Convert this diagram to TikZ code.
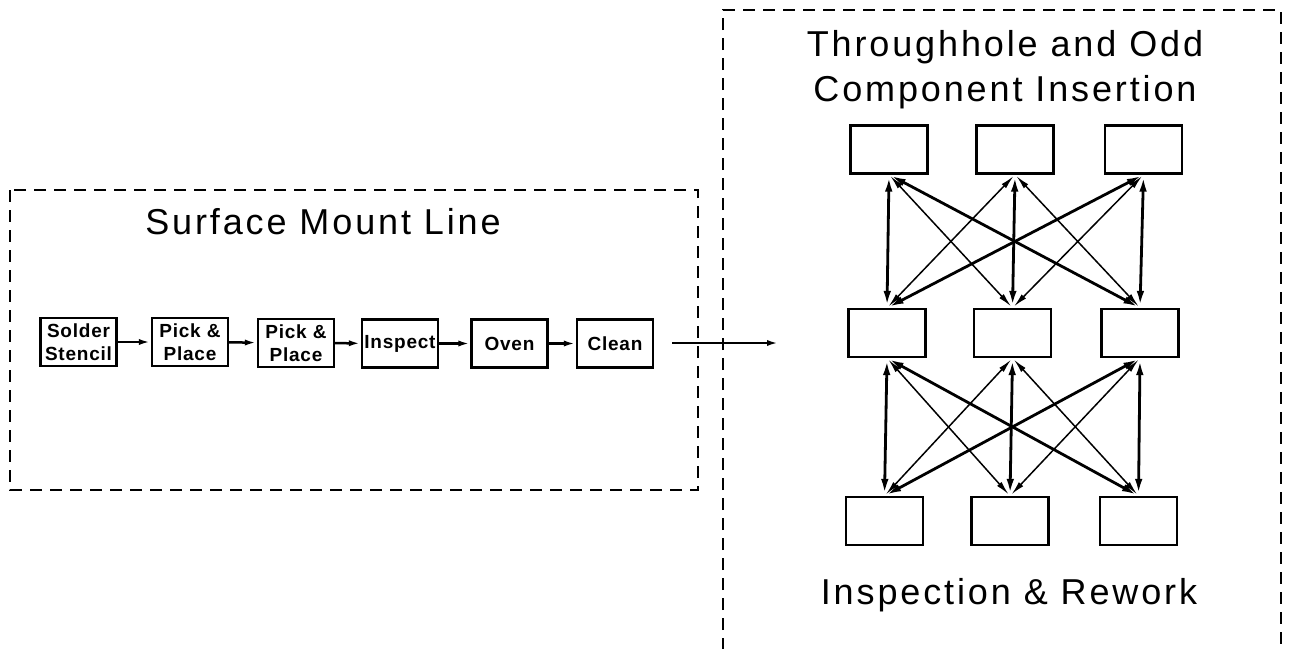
\documentclass[tikz,border=0pt]{standalone}
\usepackage{fontspec}
\setmainfont{Liberation Sans}
\newfontfamily\titlefont[LetterSpace=8]{Liberation Sans}
\newfontfamily\boxfont[LetterSpace=4]{Liberation Sans Bold}
\usetikzlibrary{arrows.meta}
\begin{document}
\begin{tikzpicture}[x=1pt,y=-1pt,
  dashbox/.style={line width=1.4pt, dash pattern=on 12pt off 8pt},
  stepbox/.style={draw, line width=2.2pt, minimum width=76pt, minimum height=48pt, inner sep=0pt, align=center,
    font=\boxfont\fontsize{19}{23}\selectfont},
  gbox/.style={draw, line width=2.2pt, minimum width=77pt, minimum height=48pt, inner sep=0pt},
  title/.style={font=\titlefont\fontsize{36}{45}\selectfont, align=center},
  chain/.style={line width=2.5pt, -{Latex[length=12pt,width=6pt]}},
  thin/.style={line width=1.5pt, {Latex[length=14pt,width=6pt]}-{Latex[length=14pt,width=6pt]}, shorten <=2pt, shorten >=2pt},
  thick/.style={line width=2.8pt, {Latex[length=15pt,width=7.5pt]}-{Latex[length=15pt,width=7.5pt]}, shorten <=2pt, shorten >=2pt}
]
\useasboundingbox (0,0) rectangle (1289,648);
% dashed enclosures
\draw[dashbox] (10,190) rectangle (698,490);
\draw[dashbox] (723,650) -- (723,10) -- (1281,10) -- (1281,650);

\node[title] (smt) at (323,222) {Surface Mount Line};
\node[title] (th) at (1005,70) {Throughhole and Odd\\Component Insertion};
\node[title] (ir) at (1009,595) {Inspection \& Rework};

% surface mount chain
\node[stepbox] (s1) at (78.5,342) {Solder\\Stencil};
\node[stepbox] (s2) at (190,342) {Pick \&\\Place};
\node[stepbox] (s3) at (296,343) {Pick \&\\Place};
\node[stepbox] (s4) at (400,343.5) {Inspect};
\node[stepbox] (s5) at (509.5,343.5) {Oven};
\node[stepbox] (s6) at (615,343.5) {Clean};
\draw[chain] (s1) -- (s2);
\draw[chain] (s2) -- (s3);
\draw[chain] (s3) -- (s4);
\draw[chain] (s4) -- (s5);
\draw[chain] (s5) -- (s6);
\coordinate (outA) at (672,343);
\coordinate (outB) at (779,343);
\draw[chain] (outA) -- (outB);

% grid boxes
\node[gbox] (t1) at (889,149.5) {};
\node[gbox] (t2) at (1015,149.5) {};
\node[gbox] (t3) at (1143.5,149.5) {};
\node[gbox] (m1) at (887,333) {};
\node[gbox] (m2) at (1012.5,333) {};
\node[gbox] (m3) at (1140,333) {};
\node[gbox] (b1) at (884.5,521) {};
\node[gbox] (b2) at (1010,521) {};
\node[gbox] (b3) at (1138.5,521) {};

% top to middle
\draw[thick] (t1.south) -- (m1.north);
\draw[thick] (t2.south) -- (m2.north);
\draw[thick] (t3.south) -- (m3.north);
\draw[thick] (t1.south) -- (m3.north);
\draw[thick] (t3.south) -- (m1.north);
\draw[thin] (t1.south) -- (m2.north);
\draw[thin] (t2.south) -- (m1.north);
\draw[thin] (t2.south) -- (m3.north);
\draw[thin] (t3.south) -- (m2.north);

% middle to bottom
\draw[thick] (m1.south) -- (b1.north);
\draw[thick] (m2.south) -- (b2.north);
\draw[thick] (m3.south) -- (b3.north);
\draw[thick] (m1.south) -- (b3.north);
\draw[thick] (m3.south) -- (b1.north);
\draw[thin] (m1.south) -- (b2.north);
\draw[thin] (m2.south) -- (b1.north);
\draw[thin] (m2.south) -- (b3.north);
\draw[thin] (m3.south) -- (b2.north);
\end{tikzpicture}
\end{document}
